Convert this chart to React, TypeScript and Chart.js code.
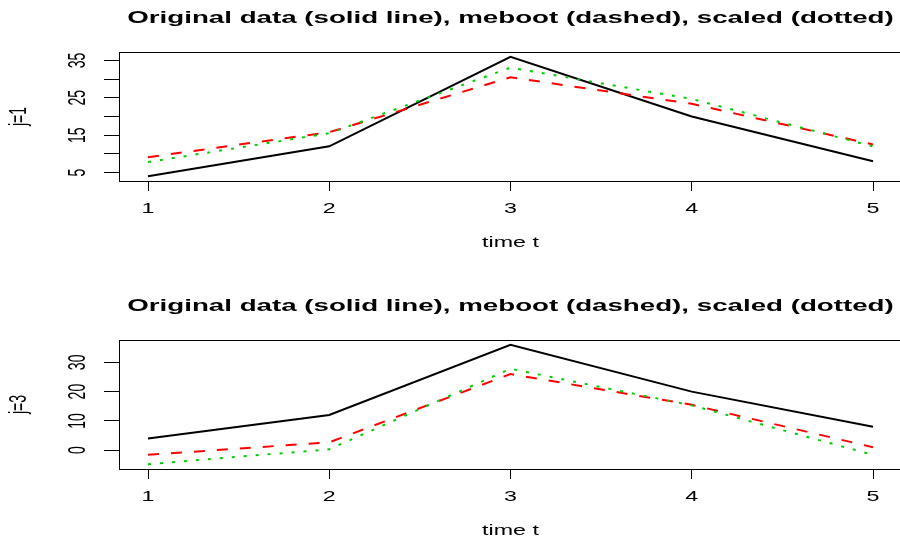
import React, { useEffect, useRef } from "react";
import { Chart, registerables } from "chart.js";

Chart.register(...registerables);

// ---- data ----
const timePoints = [1, 2, 3, 4, 5];
const original = [4, 12, 36, 20, 8];
const mebootJ1 = [9.1, 15.8, 30.5, 23.4, 12.5];
const scaledJ1 = [7.8, 15.5, 33.1, 24.7, 12.0];
const mebootJ3 = [-1.6, 2.7, 26.0, 15.5, 1.0];
const scaledJ3 = [-4.8, 0.3, 27.8, 15.3, -1.6];
const yTicksJ1 = [5, 10, 15, 20, 25, 30, 35];
const yLabelsJ1 = [5, 15, 25, 35];
const yTicksJ3 = [0, 10, 20, 30];
const yLabelsJ3 = [0, 10, 20, 30];
const titleText = "Original data (solid line), meboot (dashed), scaled (dotted)";
const xTitle = "time t";

const SX = 1.66; // horizontal stretch of the reference's text
const FONT = '"Liberation Sans", Arial, Helvetica, sans-serif';
const PANEL_H = 288;
const CANVAS_W = 920;

function hText(ctx: CanvasRenderingContext2D, text: string, x: number, y: number, font: string) {
  ctx.save();
  ctx.translate(x, y);
  ctx.scale(SX, 1);
  ctx.font = font;
  ctx.textAlign = "center";
  ctx.textBaseline = "alphabetic";
  ctx.fillStyle = "#000";
  ctx.fillText(text, 0, 0);
  ctx.restore();
}

function vText(ctx: CanvasRenderingContext2D, text: string, x: number, y: number, font: string) {
  ctx.save();
  ctx.translate(x, y);
  ctx.scale(SX, 1);
  ctx.rotate(-Math.PI / 2);
  ctx.font = font;
  ctx.textAlign = "center";
  ctx.textBaseline = "alphabetic";
  ctx.fillStyle = "#000";
  ctx.fillText(text, 0, 0);
  ctx.restore();
}

type PanelProps = {
  yLabel: string;
  meboot: number[];
  scaled: number[];
  yTicks: number[];
  yLabels: number[];
  top: number;
};

function Panel({ yLabel, meboot, scaled, yTicks, yLabels, top }: PanelProps) {
  const ref = useRef<HTMLCanvasElement | null>(null);

  useEffect(() => {
    if (!ref.current) return;
    const all = [...original, ...meboot, ...scaled];
    const dMin = Math.min(...all);
    const dMax = Math.max(...all);
    const pad = (dMax - dMin) * 0.04;
    const xPad = (timePoints[timePoints.length - 1] - timePoints[0]) * 0.04;

    const pts = (arr: number[]) => arr.map((v, i) => ({ x: timePoints[i], y: v }));

    const textPlugin = {
      id: "rtext",
      afterDraw(chart: any) {
        const ctx: CanvasRenderingContext2D = chart.ctx;
        const a = chart.chartArea;
        const xs = chart.scales.x;
        const ys = chart.scales.y;
        // box
        ctx.save();
        ctx.strokeStyle = "#000";
        ctx.lineWidth = 1;
        ctx.strokeRect(a.left + 0.5, a.top + 0.5, a.right - a.left, a.bottom - a.top);
        ctx.restore();
        const cx = (a.left + a.right) / 2;
        hText(ctx, titleText, cx, 23, `bold 16.7px ${FONT}`);
        timePoints.forEach((v) => {
          hText(ctx, String(v), xs.getPixelForValue(v), 213.3, `14px ${FONT}`);
        });
        hText(ctx, xTitle, cx, 247, `14px ${FONT}`);
        yLabels.forEach((v) => {
          vText(ctx, String(v), 85, ys.getPixelForValue(v), `14px ${FONT}`);
        });
        vText(ctx, yLabel, 25.5, (a.top + a.bottom) / 2, `14px ${FONT}`);
      },
    };

    const chart = new Chart(ref.current, {
      type: "line",
      data: {
        datasets: [
          {
            label: "original",
            data: pts(original),
            borderColor: "#000000",
            borderWidth: 2,
            pointRadius: 0,
            tension: 0,
            order: 3,
          },
          {
            label: "meboot",
            data: pts(meboot),
            borderColor: "#FF0000",
            borderWidth: 2,
            borderDash: [11, 12],
            pointRadius: 0,
            tension: 0,
            order: 2,
          },
          {
            label: "scaled",
            data: pts(scaled),
            borderColor: "#00CD00",
            borderWidth: 2,
            borderDash: [3, 9],
            pointRadius: 0,
            tension: 0,
            order: 1,
          },
        ],
      },
      options: {
        animation: false,
        responsive: false,
        maintainAspectRatio: false,
        layout: { padding: { left: 0, top: 52, right: 18, bottom: 0 } },
        plugins: {
          legend: { display: false },
          tooltip: { enabled: false },
          title: { display: false },
        },
        scales: {
          x: {
            type: "linear",
            min: timePoints[0] - xPad,
            max: timePoints[timePoints.length - 1] + xPad,
            afterBuildTicks: (s: any) => {
              s.ticks = timePoints.map((v) => ({ value: v }));
            },
            afterFit: (s: any) => {
              s.height = 107;
            },
            grid: {
              drawOnChartArea: false,
              drawTicks: true,
              tickLength: 10,
              color: "#000",
              lineWidth: 1,
            },
            border: { display: false },
            ticks: { display: false },
          },
          y: {
            type: "linear",
            min: dMin - pad,
            max: dMax + pad,
            afterBuildTicks: (s: any) => {
              s.ticks = yTicks.map((v) => ({ value: v }));
            },
            afterFit: (s: any) => {
              s.width = 119;
            },
            grid: {
              drawOnChartArea: false,
              drawTicks: true,
              tickLength: 15,
              color: "#000",
              lineWidth: 1,
            },
            border: { display: false },
            ticks: { display: false },
          },
        },
      },
      plugins: [textPlugin],
    } as any);

    return () => chart.destroy();
  }, [yLabel, meboot, scaled, yTicks, yLabels]);

  return (
    <canvas
      ref={ref}
      width={CANVAS_W}
      height={PANEL_H}
      style={{ position: "absolute", left: 0, top, width: CANVAS_W, height: PANEL_H, display: "block" }}
    />
  );
}

export default function App() {
  return (
    <div
      style={{
        position: "fixed",
        left: 0,
        top: 0,
        width: 900,
        height: 537,
        overflow: "hidden",
        background: "#fff",
      }}
    >
      <Panel yLabel="j=1" meboot={mebootJ1} scaled={scaledJ1} yTicks={yTicksJ1} yLabels={yLabelsJ1} top={0} />
      <Panel yLabel="j=3" meboot={mebootJ3} scaled={scaledJ3} yTicks={yTicksJ3} yLabels={yLabelsJ3} top={PANEL_H} />
    </div>
  );
}
